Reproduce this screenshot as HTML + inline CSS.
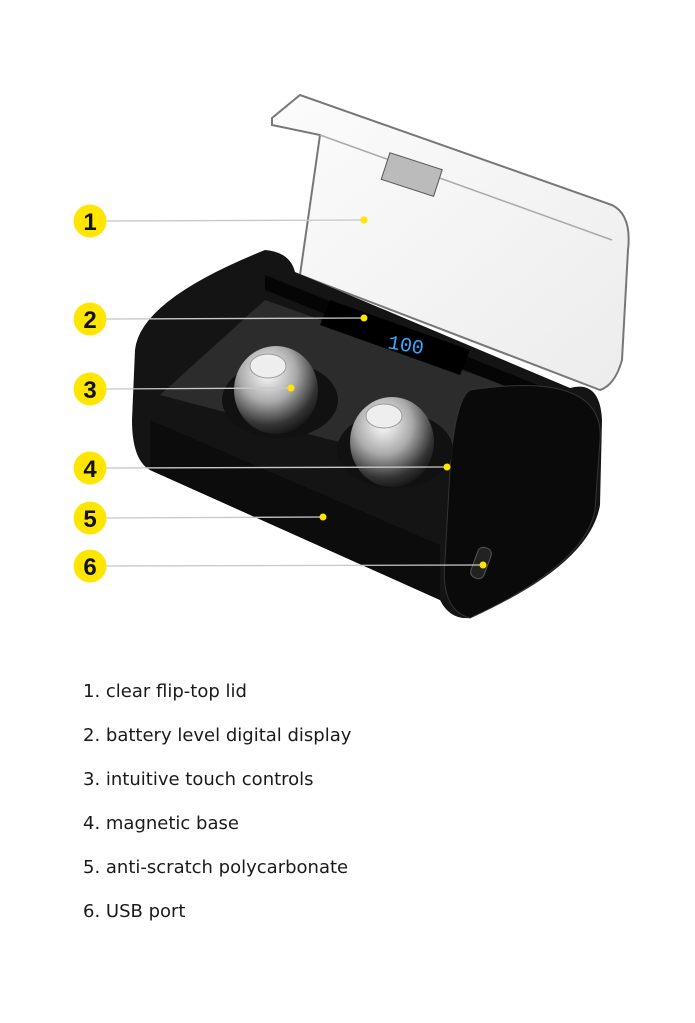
<!DOCTYPE html>
<html><head><meta charset="utf-8"><style>
html,body{margin:0;padding:0;background:#fff;width:695px;height:1023px;overflow:hidden}
.l{position:absolute;left:83px;font-family:"DejaVu Sans","Liberation Sans",sans-serif;font-size:18px;color:#1a1a1a}
</style></head><body>
<svg width="695" height="660" style="position:absolute;left:0;top:0">
<defs>
<radialGradient id="s" cx="40%" cy="30%" r="75%"><stop offset="0" stop-color="#fff"/><stop offset=".45" stop-color="#aaa"/><stop offset=".8" stop-color="#333"/><stop offset="1" stop-color="#111"/></radialGradient>
<linearGradient id="lid" x1="0" y1="0" x2="1" y2="1"><stop offset="0" stop-color="#fcfcfc"/><stop offset="1" stop-color="#ececec"/></linearGradient>
</defs>
<path d="M272,118 L300,95 L612,205 Q632,215 628,250 L622,360 Q615,385 600,390 L300,275 L320,135 L272,125 Z" fill="url(#lid)" stroke="#777" stroke-width="2"/>
<path d="M320,135 L612,240" stroke="#aaa" stroke-width="1.5" fill="none"/>
<rect x="384" y="160" width="55" height="28" fill="#bbb" stroke="#555" transform="rotate(18 410 175)"/>
<path d="M265,250 Q290,252 295,272 L570,388 Q600,380 602,420 L600,505 Q590,565 470,618 Q450,620 440,600 L150,470 Q132,460 132,420 L135,350 Q140,300 265,250 Z" fill="#141414"/>
<path d="M160,395 L265,300 L560,405 L445,470 Z" fill="#2c2c2c"/>
<path d="M265,275 L550,390 L540,400 L265,290 Z" fill="#050505"/>
<path d="M150,420 L440,545 L440,600 L150,470 Z" fill="#0c0c0c"/>
<path d="M470,390 Q605,370 600,440 L595,510 Q585,565 470,618 Q440,610 445,560 L450,470 Q455,400 470,390 Z" fill="#0a0a0a" stroke="#333"/>
<path d="M330,300 L470,350 L460,375 L320,325 Z" fill="#000"/>
<text x="388" y="352" font-family="Liberation Mono,monospace" font-size="20" fill="#3aa8ff" transform="rotate(10 410 345)">100</text>
<ellipse cx="280" cy="400" rx="58" ry="38" fill="#111"/>
<ellipse cx="276" cy="390" rx="42" ry="44" fill="url(#s)"/>
<ellipse cx="268" cy="366" rx="18" ry="12" fill="#eee" stroke="#999"/>
<ellipse cx="395" cy="450" rx="58" ry="38" fill="#111"/>
<ellipse cx="392" cy="442" rx="42" ry="45" fill="url(#s)"/>
<ellipse cx="384" cy="416" rx="18" ry="12" fill="#eee" stroke="#999"/>
<rect x="474" y="547" width="14" height="32" rx="6" fill="#222" stroke="#555" transform="rotate(20 481 563)"/>
<g stroke="#c8c8c8" stroke-width="1.3">
<line x1="106" y1="221" x2="364" y2="220"/><line x1="106" y1="319" x2="364" y2="318"/>
<line x1="106" y1="389" x2="291" y2="388"/><line x1="106" y1="468" x2="447" y2="467"/>
<line x1="106" y1="518" x2="323" y2="517"/><line x1="106" y1="566" x2="483" y2="565"/>
</g>
<g fill="#ffe600">
<circle cx="364" cy="220" r="3.5"/><circle cx="364" cy="318" r="3.5"/><circle cx="291" cy="388" r="3.5"/>
<circle cx="447" cy="467" r="3.5"/><circle cx="323" cy="517" r="3.5"/><circle cx="483" cy="565" r="3.5"/>
<circle cx="90" cy="221" r="16.5"/><circle cx="90" cy="319" r="16.5"/><circle cx="90" cy="389" r="16.5"/>
<circle cx="90" cy="468" r="16.5"/><circle cx="90" cy="518" r="16.5"/><circle cx="90" cy="566" r="16.5"/>
</g>
<g font-family="Liberation Sans,sans-serif" font-weight="bold" font-size="24" fill="#111" text-anchor="middle">
<text x="90" y="230">1</text><text x="90" y="328">2</text><text x="90" y="398">3</text>
<text x="90" y="477">4</text><text x="90" y="527">5</text><text x="90" y="575">6</text>
</g>
</svg>
<div class="l" style="top:681px">1. clear flip-top lid</div>
<div class="l" style="top:725px">2. battery level digital display</div>
<div class="l" style="top:769px">3. intuitive touch controls</div>
<div class="l" style="top:813px">4. magnetic base</div>
<div class="l" style="top:857px">5. anti-scratch polycarbonate</div>
<div class="l" style="top:901px">6. USB port</div>
</body></html>
